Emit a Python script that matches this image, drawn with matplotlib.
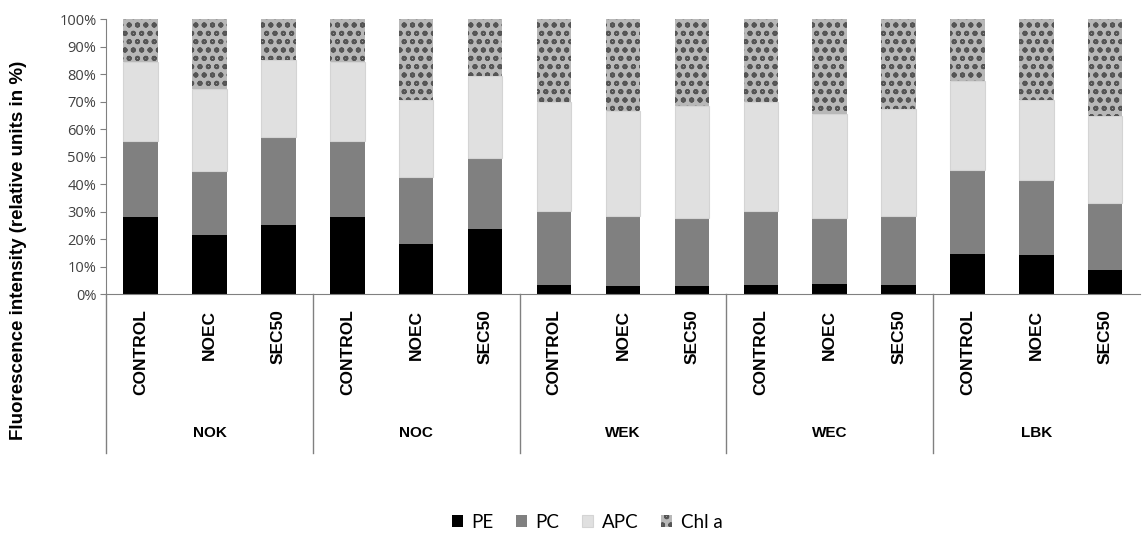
import matplotlib.pyplot as plt
import numpy as np

groups = ["NOK", "NOC", "WEK", "WEC", "LBK"]
treatments = ["CONTROL", "NOEC", "SEC50"]

# per bar, in order NOK(C, N, S), NOC(...), WEK, WEC, LBK
pe = [28.0, 21.7, 25.0, 28.0, 18.4, 23.8, 3.5, 3.0, 3.0, 3.5, 3.6, 3.3, 14.8, 14.2, 8.7]
pc = [27.6, 23.0, 32.2, 27.6, 24.3, 25.9, 26.8, 25.4, 24.9, 26.8, 24.3, 25.2, 30.3, 27.3, 24.3]
apc = [28.9, 30.1, 27.9, 28.9, 28.1, 29.6, 39.6, 38.3, 40.5, 39.6, 37.8, 38.7, 32.4, 29.3, 31.8]
chl = [100 - a - b - c for a, b, c in zip(pe, pc, apc)]

fig = plt.figure(figsize=(11.42, 5.34), dpi=100)
ax = fig.add_axes([0.093, 0.449, 0.905, 0.515])

n = len(pe)
x = np.arange(n)
w = 0.5
b1 = np.array(pe)
b2 = b1 + np.array(pc)
b3 = b2 + np.array(apc)

h_pe = ax.bar(x, pe, w, color="black", label="PE")
h_pc = ax.bar(x, pc, w, bottom=b1, color="#808080", label="PC")
h_apc = ax.bar(x, apc, w, bottom=b2, color="#e0e0e0", edgecolor="#d4d4d4", linewidth=0.8, label="APC")
plt.rcParams["hatch.linewidth"] = 1.3
h_chl = ax.bar(x, chl, w, bottom=b3, color="#b8b8b8", edgecolor="#555555", hatch="oo", linewidth=0, label="Chl a")

ax.set_xlim(-0.5, n - 0.5)
ax.set_ylim(0, 100)
ax.set_yticks(np.arange(0, 101, 10))
ax.set_yticklabels([f"{v}%" for v in range(0, 101, 10)], fontsize=10.5, color="#404040", family="Open Sans")
ax.tick_params(axis="y", length=4, color="#808080", pad=3)

ax.set_xticks(x)
ax.set_xticklabels(treatments * len(groups), rotation=90, fontsize=12.5, fontweight="bold",
                   family="Liberation Sans", va="top")
ax.tick_params(axis="x", length=0, pad=11)

for s in ["top", "right"]:
    ax.spines[s].set_visible(False)
for s in ["left", "bottom"]:
    ax.spines[s].set_color("#808080")

tr = ax.get_xaxis_transform()
for k in range(len(groups)):
    xs = -0.5 + 3 * k
    ax.plot([xs, xs], [0, -0.578], transform=tr, color="#808080", lw=1, clip_on=False)
    ax.text(xs + 1.5, -0.505, groups[k], transform=tr, ha="center", va="center",
            fontsize=11, fontweight="bold", family="Liberation Sans")

ax.set_ylabel("Fluorescence intensity (relative units in %)", fontsize=13.5, fontweight="bold",
              family="Liberation Sans")
ax.yaxis.set_label_coords(-0.077, 0.16)

fig.legend(handles=[h_pe, h_pc, h_apc, h_chl], loc="center", bbox_to_anchor=(0.514, 0.022), ncol=4,
           frameon=False, prop={"family": "Lato", "size": 13.5}, handlelength=0.6, handleheight=0.6,
           handletextpad=0.45, columnspacing=1.2)

fig.savefig("out.png", dpi=100)
